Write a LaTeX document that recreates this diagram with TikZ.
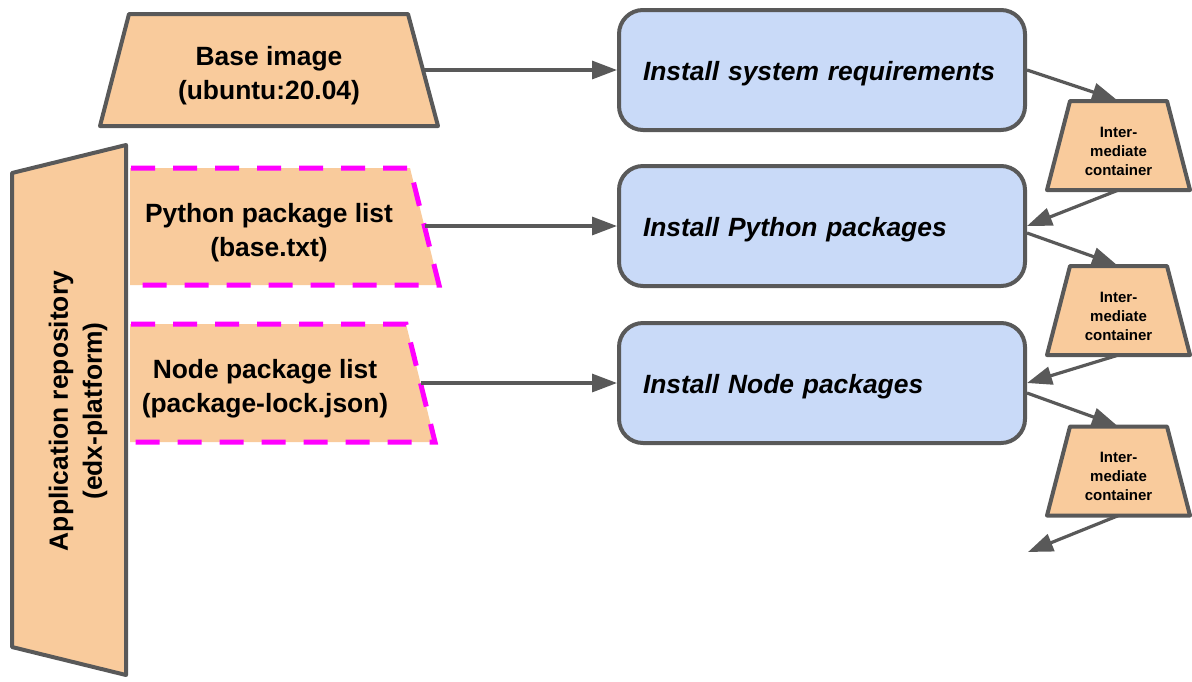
\documentclass[tikz,border=0pt]{standalone}
\usepackage{fontspec}
\setmainfont{Liberation Sans}
\usetikzlibrary{arrows.meta,positioning}
\definecolor{peachFill}{HTML}{F9CB9C}
\definecolor{stepBlue} {HTML}{C9DAF8}
\definecolor{edgeGray} {HTML}{595959}
\definecolor{listPink} {HTML}{FF00FF}

\begin{document}
\begin{tikzpicture}[x=0.5pt,y=-0.5pt,
          srcshape/.style={draw=edgeGray,fill=peachFill,line width=2pt,line join=round},
          stepno/.style={rectangle,rounded corners=12pt,draw=edgeGray,fill=stepBlue,
                        line width=2pt,minimum width=203pt,minimum height=60pt,
                        inner xsep=12pt,text width=179pt,text height=13.5pt,align=left,
                        font=\fontsize{13.2}{17}\selectfont\bfseries\itshape},
          midtxt/.style={align=center,font=\fontsize{7.5}{9.5}\selectfont\bfseries},
          flow/.style={draw=edgeGray,line width=1.6pt,-{Triangle[length=12.5pt,width=9pt]}},
          dashline/.style={draw=listPink,line width=2.5pt,dash pattern=on 12pt off 9pt},
          lbl/.style={align=center,font=\fontsize{13.2}{17}\selectfont\bfseries},
        ]
        \useasboundingbox (0,0) rectangle (1192,681);

        % APPLICATION REPOSITORY
        \draw[srcshape] (12,173) -- (126,145) -- (126,675) -- (12,647) -- cycle;
        \node[lbl,rotate=90] (repo) at (78,411) {Application repository\\(edx-platform)};

        % BASE IMAGE
        \draw[srcshape] (129,14) -- (408,14) -- (438,126) -- (100,126) -- cycle;
        \node[lbl] (basetxt) at (269,76) {Base image\\(ubuntu:20.04)};
        \coordinate (baseout) at (423,70);

        % PACKAGE LISTS
        \fill[peachFill] (130,168) -- (410,168) -- (439,285) -- (130,285) -- cycle;
        \draw[dashline] (131,168) -- (410,168) -- (439,285) -- (131,285);
        \node[lbl] (pytxt) at (269,233) {Python package list\\(base.txt)};
        \coordinate (pyout) at (424.5,226);
        \fill[peachFill] (130,324) -- (406,324) -- (435,442) -- (130,442) -- cycle;
        \draw[dashline] (131,324) -- (406,324) -- (435,442) -- (131,442);
        \node[lbl] (nodetxt) at (265,389) {Node package list\\(package-lock.json)};
        \coordinate (nodeout) at (420.5,383);

        % BUILD STEPS
        \node[stepno] (box1) at (822,70)  {Install system requirements};
        \node[stepno] (box2) at (822,226) {Install Python packages};
        \node[stepno] (box3) at (822,383) {Install Node packages};

        % INTERMEDIATE CONTAINERS
        \foreach \i/\y in {1/101,2/266,3/426.5}{
          \draw[srcshape] (1070,\y) -- (1167,\y) -- (1190,\y+89) -- (1047,\y+89) -- cycle;
          \node[midtxt] (mid\i txt) at (1118.5,\y+50) {Inter-\\mediate\\container};
          \coordinate (mid\i top) at (1117,\y-1);
          \coordinate (mid\i bot) at (1118.5,\y+89);
        }
        \coordinate (tail) at (1028,552);

        \draw[flow] (baseout) -- (box1);
        \draw[flow] (pyout) -- (box2);
        \draw[flow] (nodeout) -- (box3);
        \draw[flow] (box1.east) -- (mid1top);
        \draw[flow] (mid1bot) -- (box2.east);
        \draw[flow] ([yshift=-3.5pt]box2.east) -- (mid2top);
        \draw[flow] (mid2bot) -- (box3.east);
        \draw[flow] ([yshift=-5pt]box3.east) -- (mid3top);
        \draw[flow] (mid3bot) -- (tail);
      \end{tikzpicture}
\end{document}
